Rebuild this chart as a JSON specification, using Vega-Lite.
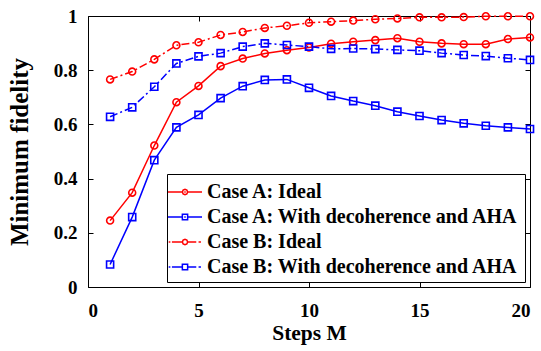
{
  "$schema": "https://vega.github.io/schema/vega-lite/v6.json",
  "width": 442,
  "height": 271,
  "autosize": {"type": "none"},
  "padding": {"left": 88, "top": 16, "right": 11, "bottom": 64},
  "config": {
    "view": {"stroke": "black", "strokeWidth": 1},
    "font": "Liberation Serif",
    "axis": {
      "domain": false,
      "ticks": false,
      "grid": true,
      "gridColor": "black",
      "gridOpacity": 1,
      "gridWidth": 1,
      "labelFont": "Liberation Serif",
      "labelFontWeight": "bold",
      "labelFontSize": 19,
      "labelColor": "black",
      "titleFont": "Liberation Serif",
      "titleFontWeight": "bold",
      "titleColor": "black"
    },
    "legend": {
      "labelFont": "Liberation Serif",
      "labelFontWeight": "bold",
      "labelFontSize": 20,
      "labelColor": "black",
      "labelLimit": 400
    }
  },
  "data": {
    "values": [
      {"M": 1, "series": "Case A: Ideal", "F": 0.245},
      {"M": 2, "series": "Case A: Ideal", "F": 0.348},
      {"M": 3, "series": "Case A: Ideal", "F": 0.522},
      {"M": 4, "series": "Case A: Ideal", "F": 0.682},
      {"M": 5, "series": "Case A: Ideal", "F": 0.742},
      {"M": 6, "series": "Case A: Ideal", "F": 0.815},
      {"M": 7, "series": "Case A: Ideal", "F": 0.843},
      {"M": 8, "series": "Case A: Ideal", "F": 0.862},
      {"M": 9, "series": "Case A: Ideal", "F": 0.874},
      {"M": 10, "series": "Case A: Ideal", "F": 0.884},
      {"M": 11, "series": "Case A: Ideal", "F": 0.898},
      {"M": 12, "series": "Case A: Ideal", "F": 0.905},
      {"M": 13, "series": "Case A: Ideal", "F": 0.911},
      {"M": 14, "series": "Case A: Ideal", "F": 0.918},
      {"M": 15, "series": "Case A: Ideal", "F": 0.905},
      {"M": 16, "series": "Case A: Ideal", "F": 0.899},
      {"M": 17, "series": "Case A: Ideal", "F": 0.896},
      {"M": 18, "series": "Case A: Ideal", "F": 0.896},
      {"M": 19, "series": "Case A: Ideal", "F": 0.915},
      {"M": 20, "series": "Case A: Ideal", "F": 0.921},
      {"M": 1, "series": "Case A: With decoherence and AHA", "F": 0.083},
      {"M": 2, "series": "Case A: With decoherence and AHA", "F": 0.258},
      {"M": 3, "series": "Case A: With decoherence and AHA", "F": 0.468},
      {"M": 4, "series": "Case A: With decoherence and AHA", "F": 0.589},
      {"M": 5, "series": "Case A: With decoherence and AHA", "F": 0.635},
      {"M": 6, "series": "Case A: With decoherence and AHA", "F": 0.697},
      {"M": 7, "series": "Case A: With decoherence and AHA", "F": 0.741},
      {"M": 8, "series": "Case A: With decoherence and AHA", "F": 0.764},
      {"M": 9, "series": "Case A: With decoherence and AHA", "F": 0.766},
      {"M": 10, "series": "Case A: With decoherence and AHA", "F": 0.735},
      {"M": 11, "series": "Case A: With decoherence and AHA", "F": 0.705},
      {"M": 12, "series": "Case A: With decoherence and AHA", "F": 0.686},
      {"M": 13, "series": "Case A: With decoherence and AHA", "F": 0.669},
      {"M": 14, "series": "Case A: With decoherence and AHA", "F": 0.647},
      {"M": 15, "series": "Case A: With decoherence and AHA", "F": 0.631},
      {"M": 16, "series": "Case A: With decoherence and AHA", "F": 0.616},
      {"M": 17, "series": "Case A: With decoherence and AHA", "F": 0.604},
      {"M": 18, "series": "Case A: With decoherence and AHA", "F": 0.595},
      {"M": 19, "series": "Case A: With decoherence and AHA", "F": 0.589},
      {"M": 20, "series": "Case A: With decoherence and AHA", "F": 0.583},
      {"M": 1, "series": "Case B: Ideal", "F": 0.766},
      {"M": 2, "series": "Case B: Ideal", "F": 0.795},
      {"M": 3, "series": "Case B: Ideal", "F": 0.84},
      {"M": 4, "series": "Case B: Ideal", "F": 0.892},
      {"M": 5, "series": "Case B: Ideal", "F": 0.903},
      {"M": 6, "series": "Case B: Ideal", "F": 0.93},
      {"M": 7, "series": "Case B: Ideal", "F": 0.941},
      {"M": 8, "series": "Case B: Ideal", "F": 0.956},
      {"M": 9, "series": "Case B: Ideal", "F": 0.964},
      {"M": 10, "series": "Case B: Ideal", "F": 0.975},
      {"M": 11, "series": "Case B: Ideal", "F": 0.979},
      {"M": 12, "series": "Case B: Ideal", "F": 0.983},
      {"M": 13, "series": "Case B: Ideal", "F": 0.988},
      {"M": 14, "series": "Case B: Ideal", "F": 0.991},
      {"M": 15, "series": "Case B: Ideal", "F": 0.995},
      {"M": 16, "series": "Case B: Ideal", "F": 0.995},
      {"M": 17, "series": "Case B: Ideal", "F": 0.996},
      {"M": 18, "series": "Case B: Ideal", "F": 0.999},
      {"M": 19, "series": "Case B: Ideal", "F": 0.999},
      {"M": 20, "series": "Case B: Ideal", "F": 0.999},
      {"M": 1, "series": "Case B: With decoherence and AHA", "F": 0.628},
      {"M": 2, "series": "Case B: With decoherence and AHA", "F": 0.663},
      {"M": 3, "series": "Case B: With decoherence and AHA", "F": 0.739},
      {"M": 4, "series": "Case B: With decoherence and AHA", "F": 0.825},
      {"M": 5, "series": "Case B: With decoherence and AHA", "F": 0.851},
      {"M": 6, "series": "Case B: With decoherence and AHA", "F": 0.863},
      {"M": 7, "series": "Case B: With decoherence and AHA", "F": 0.887},
      {"M": 8, "series": "Case B: With decoherence and AHA", "F": 0.899},
      {"M": 9, "series": "Case B: With decoherence and AHA", "F": 0.893},
      {"M": 10, "series": "Case B: With decoherence and AHA", "F": 0.887},
      {"M": 11, "series": "Case B: With decoherence and AHA", "F": 0.879},
      {"M": 12, "series": "Case B: With decoherence and AHA", "F": 0.88},
      {"M": 13, "series": "Case B: With decoherence and AHA", "F": 0.878},
      {"M": 14, "series": "Case B: With decoherence and AHA", "F": 0.875},
      {"M": 15, "series": "Case B: With decoherence and AHA", "F": 0.872},
      {"M": 16, "series": "Case B: With decoherence and AHA", "F": 0.863},
      {"M": 17, "series": "Case B: With decoherence and AHA", "F": 0.856},
      {"M": 18, "series": "Case B: With decoherence and AHA", "F": 0.852},
      {"M": 19, "series": "Case B: With decoherence and AHA", "F": 0.844},
      {"M": 20, "series": "Case B: With decoherence and AHA", "F": 0.838}
    ]
  },
  "layer": [
    {
      "transform": [{"filter": "datum.M > 100"}],
      "mark": {"type": "point", "filled": false, "strokeWidth": 1.5, "opacity": 1},
      "encoding": {
        "x": {
          "field": "M", "type": "quantitative",
          "scale": {"domain": [0, 20], "nice": false},
          "axis": {"values": [0, 5, 10, 15, 20], "format": "~g", "title": "Steps M", "titleFontSize": 21.5, "labelPadding": 14, "titlePadding": 2, "gridDash": [5, 261]}
        },
        "y": {
          "field": "F", "type": "quantitative",
          "scale": {"domain": [0, 1], "nice": false},
          "axis": {"values": [0, 0.2, 0.4, 0.6, 0.8, 1], "format": "~g", "title": "Minimum fidelity", "titleFontSize": 25, "labelPadding": 11, "titlePadding": 21, "gridDash": [5, 432]}
        },
        "color": {
          "field": "series", "type": "nominal",
          "scale": {
            "domain": ["Case A: Ideal", "Case A: With decoherence and AHA", "Case B: Ideal", "Case B: With decoherence and AHA"],
            "range": ["#ff0000", "#0000ff", "#ff0000", "#0000ff"]
          },
          "legend": {
            "title": null,
            "orient": "bottom-right",
            "offset": 5,
            "padding": 5,
            "rowPadding": 2,
            "labelOffset": 9,
            "symbolSize": 576,
            "symbolStrokeWidth": 1.5,
            "strokeColor": "black",
            "fillColor": "white"
          }
        },
        "shape": {
          "field": "series", "type": "nominal",
          "scale": {
            "domain": ["Case A: Ideal", "Case A: With decoherence and AHA", "Case B: Ideal", "Case B: With decoherence and AHA"],
            "range": [
              "M-1.42,0H-0.22M0.22,0H1.42M0.22,0L0.156,0.156L0,0.22L-0.156,0.156L-0.22,0L-0.156,-0.156L0,-0.22L0.156,-0.156ZM-0.06,0H0.06",
              "M-1.42,0H-0.22M0.22,0H1.42M-0.22,-0.22H0.22V0.22H-0.22ZM-0.06,0H0.06",
              "M-1.36,0H-1.22M-1.09,0H-0.22M0.22,0H0.94M1.13,0H1.33M0.22,0L0.156,0.156L0,0.22L-0.156,0.156L-0.22,0L-0.156,-0.156L0,-0.22L0.156,-0.156Z",
              "M-1.36,0H-1.22M-1.09,0H-0.22M0.22,0H0.94M1.13,0H1.33M-0.22,-0.22H0.22V0.22H-0.22Z"
            ]
          },
          "legend": {
            "title": null,
            "orient": "bottom-right",
            "offset": 5,
            "padding": 5,
            "rowPadding": 2,
            "labelOffset": 9,
            "symbolSize": 576,
            "symbolStrokeWidth": 1.5,
            "strokeColor": "black",
            "fillColor": "white"
          }
        }
      }
    },
    {
      "transform": [{"filter": "indexof(datum.series, 'Case A') >= 0"}],
      "mark": {"type": "line", "strokeWidth": 1.5},
      "encoding": {
        "x": {"field": "M", "type": "quantitative"},
        "y": {"field": "F", "type": "quantitative"},
        "color": {"field": "series", "type": "nominal"}
      }
    },
    {
      "transform": [{"filter": "indexof(datum.series, 'Case B') >= 0"}],
      "mark": {"type": "line", "strokeWidth": 1.5, "strokeDash": [8, 3, 2, 3]},
      "encoding": {
        "x": {"field": "M", "type": "quantitative"},
        "y": {"field": "F", "type": "quantitative"},
        "color": {"field": "series", "type": "nominal"}
      }
    },
    {
      "transform": [{"filter": "indexof(datum.series, 'Ideal') >= 0"}],
      "mark": {"type": "point", "shape": "circle", "filled": false, "size": 48, "strokeWidth": 1.6, "opacity": 1},
      "encoding": {
        "x": {"field": "M", "type": "quantitative"},
        "y": {"field": "F", "type": "quantitative"},
        "color": {"field": "series", "type": "nominal"}
      }
    },
    {
      "transform": [{"filter": "indexof(datum.series, 'AHA') >= 0"}],
      "mark": {"type": "point", "shape": "square", "filled": false, "size": 50, "strokeWidth": 1.6, "opacity": 1},
      "encoding": {
        "x": {"field": "M", "type": "quantitative"},
        "y": {"field": "F", "type": "quantitative"},
        "color": {"field": "series", "type": "nominal"}
      }
    }
  ]
}
